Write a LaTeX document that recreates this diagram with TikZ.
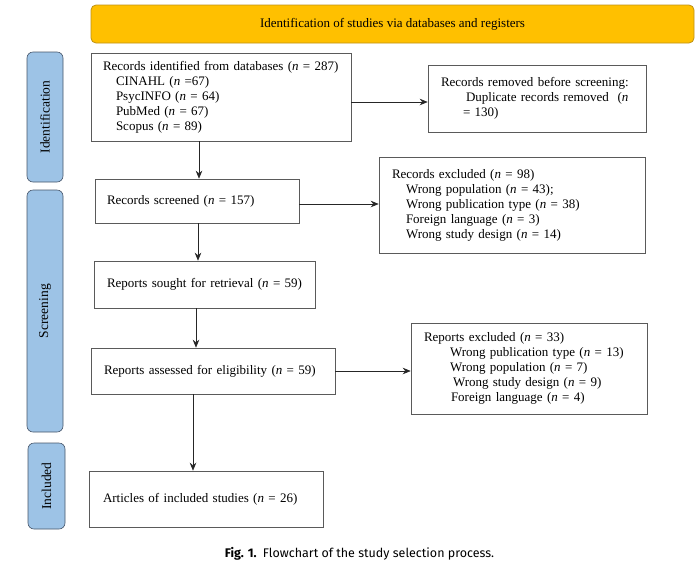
\documentclass[tikz,border=0pt]{standalone}
\usepackage{fontspec}
\setmainfont{Liberation Serif}
\newfontfamily\capfont{Fira Sans}
\usetikzlibrary{arrows.meta,calc}
\definecolor{banfill}{RGB}{255,192,0}
\definecolor{bandraw}{RGB}{190,145,20}
\definecolor{sidefill}{RGB}{157,195,230}
\definecolor{sidedraw}{RGB}{70,85,105}
\definecolor{boxdraw}{RGB}{90,90,90}
\begin{document}
\begin{tikzpicture}[x=1pt,y=-1pt,
  every node/.style={font=\fontsize{13}{15}\selectfont},
  box/.style={draw=boxdraw, line width=0.6pt, align=left, inner ysep=0pt, inner xsep=0pt,
    execute at begin node={\leftskip=#1\relax}},
  box/.default=12pt,
  side/.style={draw=sidedraw, fill=sidefill, line width=0.6pt, rounded corners=6pt},
  sidetext/.style={rotate=90, font=\fontsize{13.5}{15}\selectfont},
  arr/.style={-{Stealth[length=8pt,width=6.5pt]}, line width=0.6pt, draw=black!85}
]
\useasboundingbox (0,0) rectangle (700,571);
% banner
\node[draw=bandraw, fill=banfill, line width=0.8pt, rounded corners=5pt,
  minimum width=603pt, minimum height=38pt, inner sep=0pt] (banner) at (392.5,24)
  {Identification of studies via databases and registers};
% side labels
\node[side, minimum width=36pt, minimum height=130pt, inner sep=0pt] (sid) at (45,117) {};
\node[sidetext] (sidt) at (sid.center) {Identification};
\node[side, minimum width=36pt, minimum height=242pt, inner sep=0pt] (sscr) at (45,311) {};
\node[sidetext] (sscrt) at (sscr.center) {Screening};
\node[side, minimum width=37pt, minimum height=86pt, inner sep=0pt] (sinc) at (46.5,486) {};
\node[sidetext] (sinct) at (sinc.center) {Included};
% boxes
\node[box=12pt, text width=260pt, minimum height=88pt] (ident) at (221,97)
  {Records identified from databases (\textit{n} = 287)\\
   \hspace*{13pt}CINAHL (\textit{n} =67)\\
   \hspace*{13pt}PsycINFO (\textit{n} = 64)\\
   \hspace*{13pt}PubMed (\textit{n} = 67)\\
   \hspace*{13pt}Scopus (\textit{n} = 89)};
\node[box=13pt, text width=218pt, minimum height=67pt] (removed) at (537,98.5)
  {Records removed before screening:\\
   \hspace*{25pt}Duplicate records removed\ \ (\textit{n}\\
   \hspace*{22pt}= 130)};
\node[box=12pt, text width=204pt, minimum height=44pt] (screened) at (197,201)
  {Records screened (\textit{n} = 157)};
\node[box=13pt, text width=266pt, minimum height=96pt] (excl1) at (512,205)
  {Records excluded (\textit{n} = 98)\\
   \hspace*{14pt}Wrong population (\textit{n} = 43);\\
   \hspace*{14pt}Wrong publication type (\textit{n} = 38)\\
   \hspace*{14pt}Foreign language (\textit{n} = 3)\\
   \hspace*{14pt}Wrong study design (\textit{n} = 14)};
\node[box=13pt, text width=221pt, minimum height=47pt] (sought) at (204.5,284.5)
  {Reports sought for retrieval (\textit{n} = 59)};
\node[box=13pt, text width=244pt, minimum height=46pt] (assessed) at (213,371)
  {Reports assessed for eligibility (\textit{n} = 59)};
\node[box=13pt, text width=236pt, minimum height=91pt] (excl2) at (529,368.5)
  {Reports excluded (\textit{n} = 33)\\
   \hspace*{26pt}Wrong publication type (\textit{n} = 13)\\
   \hspace*{26pt}Wrong population (\textit{n} = 7)\\
   \hspace*{29pt}Wrong study design (\textit{n} = 9)\\
   \hspace*{27pt}Foreign language (\textit{n} = 4)};
\node[box=14pt, text width=234pt, minimum height=56pt] (articles) at (206,499)
  {Articles of included studies (\textit{n} = 26)};
% connectors
\draw[arr] (199,0 |- ident.south) -- (199,0 |- screened.north);
\draw[arr] (ident.east |- 0,102) -- (removed.west |- 0,102);
\draw[arr] (screened.east |- 0,204) -- (excl1.west |- 0,204);
\draw[arr] (198,0 |- screened.south) -- (198,0 |- sought.north);
\draw[arr] (196,0 |- sought.south) -- (196,0 |- assessed.north);
\draw[arr] (assessed.east |- 0,371) -- (excl2.west |- 0,371);
\draw[arr] (193,0 |- assessed.south) -- (193,0 |- articles.north);
% caption
\node[font=\capfont\fontsize{12.5}{14}\selectfont] (caption) at (359.5,554)
  {\textbf{Fig. 1.}\enspace Flowchart of the study selection process.};
\end{tikzpicture}
\end{document}
